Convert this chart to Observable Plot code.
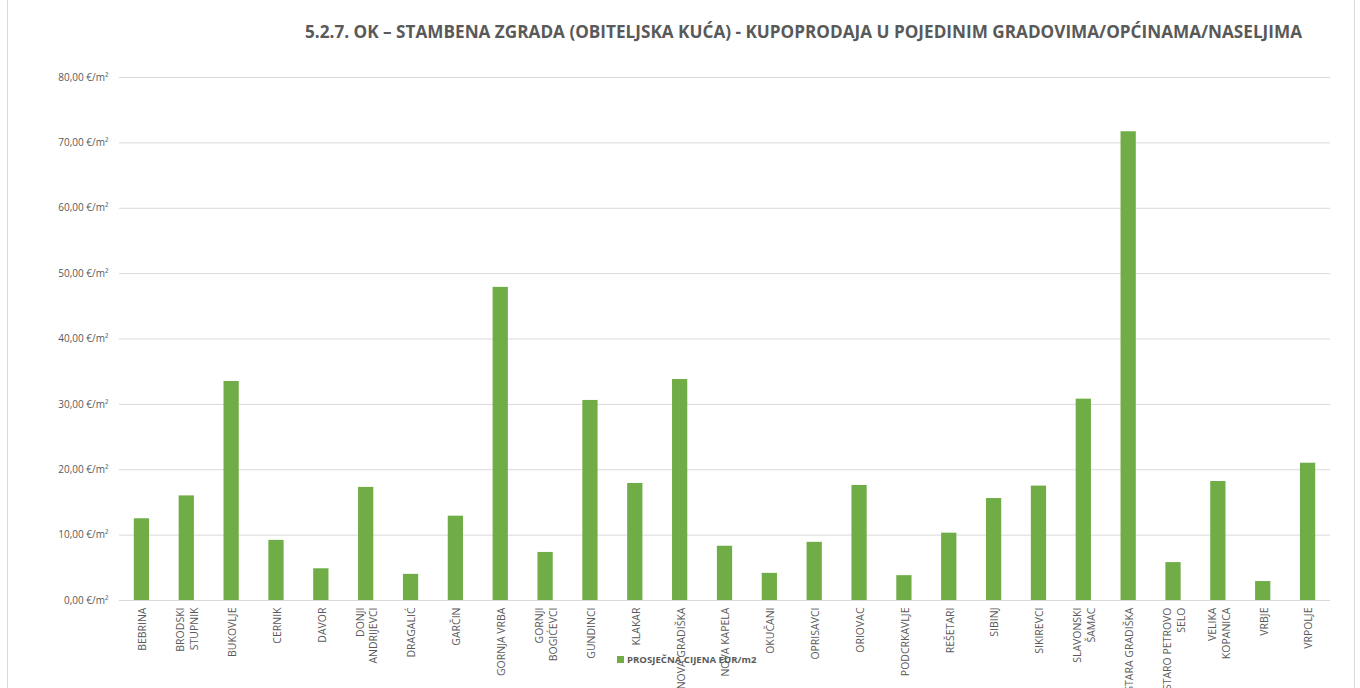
<!DOCTYPE html>
<html>
<head>
<meta charset="utf-8">
<script src="https://cdn.jsdelivr.net/npm/d3@7"></script>
<script src="https://cdn.jsdelivr.net/npm/@observablehq/plot@0.6"></script>
<style>
  html, body { margin: 0; padding: 0; background: #fff; }
  #wrap { position: relative; width: 1360px; height: 688px; overflow: hidden; font-family: "Open Sans", sans-serif; }
  #frame { position: absolute; left: 7px; top: -2px; width: 1348px; height: 700px; border: 1px solid #d9d9d9; box-sizing: border-box; }
  #title { position: absolute; left: 305px; top: 20px; white-space: nowrap; font-weight: bold; font-size: 17px; color: #595959; transform-origin: 0 0; font-family: "Open Sans", sans-serif; }
  #chart { position: absolute; left: 0; top: 0; }
  #legend { position: absolute; left: 617px; top: 653px; font-size: 9.6px; font-weight: bold; color: #595959; display: flex; align-items: center; white-space: nowrap; }
  #legend .sw { width: 7px; height: 7px; background: #70AD47; margin-right: 3px; }
</style>
</head>
<body>
<div id="wrap">
  <div id="frame"></div>
  <div id="chart"></div>
  <div id="title">5.2.7. OK – STAMBENA ZGRADA (OBITELJSKA KUĆA) - KUPOPRODAJA U POJEDINIM GRADOVIMA/OPĆINAMA/NASELJIMA</div>
  <div id="legend"><span class="sw"></span><span>PROSJEČNA CIJENA EUR/m2</span></div>
</div>
<script>
const categories = ["BEBRINA","BRODSKI STUPNIK","BUKOVLJE","CERNIK","DAVOR","DONJI ANDRIJEVCI","DRAGALIĆ","GARČIN","GORNJA VRBA","GORNJI BOGIĆEVCI","GUNDINCI","KLAKAR","NOVA GRADIŠKA","NOVA KAPELA","OKUČANI","OPRISAVCI","ORIOVAC","PODCRKAVLJE","REŠETARI","SIBINJ","SIKIREVCI","SLAVONSKI ŠAMAC","STARA GRADIŠKA","STARO PETROVO SELO","VELIKA KOPANICA","VRBJE","VRPOLJE"];
const tickLabels = ["BEBRINA","BRODSKI\nSTUPNIK","BUKOVLJE","CERNIK","DAVOR","DONJI\nANDRIJEVCI","DRAGALIĆ","GARČIN","GORNJA VRBA","GORNJI\nBOGIĆEVCI","GUNDINCI","KLAKAR","NOVA GRADIŠKA","NOVA KAPELA","OKUČANI","OPRISAVCI","ORIOVAC","PODCRKAVLJE","REŠETARI","SIBINJ","SIKIREVCI","SLAVONSKI\nŠAMAC","STARA GRADIŠKA","STARO PETROVO\nSELO","VELIKA\nKOPANICA","VRBJE","VRPOLJE"];
const values = [12.5,16.0,33.5,9.2,4.85,17.3,4.0,12.9,47.9,7.35,30.6,17.9,33.8,8.3,4.15,8.9,17.6,3.8,10.3,15.6,17.5,30.8,71.7,5.8,18.2,2.9,21.0];
const yTicks = [0,10,20,30,40,50,60,70,80];

const data = categories.map((c, i) => ({c, v: values[i]}));
const labelOf = new Map(categories.map((c, i) => [c, tickLabels[i]]));

const chart = Plot.plot({
  width: 1360,
  height: 688,
  marginTop: 77,
  marginBottom: 88,
  marginLeft: 119,
  marginRight: 30,
  style: {fontFamily: "'Open Sans', sans-serif", background: "transparent"},
  x: {domain: categories, padding: 0, round: false, axis: null},
  y: {domain: [0, 80], axis: null, label: null},
  marks: [
    Plot.gridY(yTicks, {stroke: "#d9d9d9", strokeOpacity: 1, strokeWidth: 1}),
    Plot.axisY(yTicks, {tickSize: 0, tickPadding: 11, fontSize: 10, fill: "#595959", label: null,
      tickFormat: d => d.toFixed(2).replace(".", ",") + " €/m²"}),
    Plot.barY(data, {x: "c", y: "v", fill: "#70AD47", insetLeft: 14.8, insetRight: 14.8}),
    Plot.text(categories, {x: d => d, text: d => labelOf.get(d), frameAnchor: "bottom", dy: 7,
      rotate: -90, textAnchor: "end", lineAnchor: "middle", fontSize: 10.5, fill: "#595959", lineHeight: 1.3,
      letterSpacing: "0.5px"})
  ]
});
document.getElementById("chart").appendChild(chart);

const t = document.getElementById("title");
const w = t.getBoundingClientRect().width;
t.style.transform = `scaleX(${997 / w})`;
</script>
</body>
</html>
